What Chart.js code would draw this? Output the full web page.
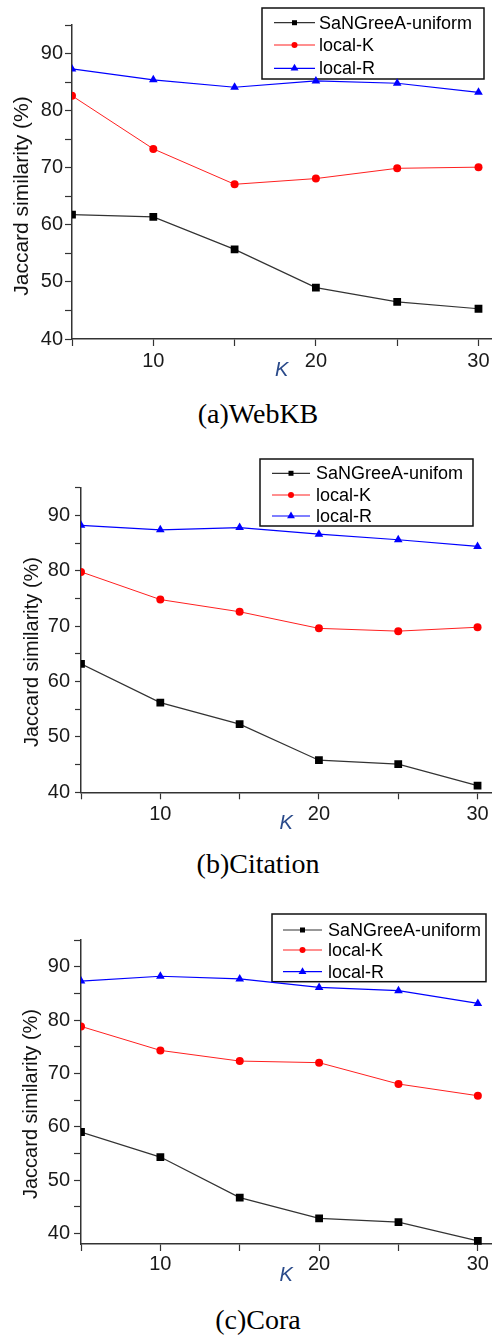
<!DOCTYPE html>
<html>
<head>
<meta charset="utf-8">
<script src="https://cdn.jsdelivr.net/npm/chart.js@4/dist/chart.umd.min.js"></script>
<style>
  body { margin: 0; background: #fff; }
  #page { position: relative; width: 497px; height: 1336px; overflow: hidden; }
  canvas { position: absolute; left: 0; }
  .caption {
    position: absolute; left: 0; width: 516px; text-align: center;
    font-family: "Liberation Serif", "Times New Roman", serif; font-size: 28px;
    height: 32px; line-height: 32px; color: #000;
  }
</style>
</head>
<body>
<div id="page">
  <canvas id="webkb" width="497" height="395" style="top:0px"></canvas>
  <canvas id="citation" width="497" height="400" style="top:440px"></canvas>
  <canvas id="cora" width="497" height="400" style="top:890px"></canvas>
  <div class="caption" style="top:398px">(a)WebKB</div>
  <div class="caption" style="top:848px">(b)Citation</div>
  <div class="caption" style="top:1304px">(c)Cora</div>
</div>
<script>
const kValues = [5, 10, 15, 20, 25, 30];
const xTickValues = [5, 10, 15, 20, 25, 30];
const yTickValues = [40, 45, 50, 55, 60, 65, 70, 75, 80, 85, 90, 95];

const webkbUniform = [61.8, 61.4, 55.7, 49.0, 46.5, 45.3];
const webkbLocalK = [82.6, 73.3, 67.1, 68.1, 69.9, 70.1];
const webkbLocalR = [87.3, 85.4, 84.1, 85.2, 84.8, 83.2];

const citationUniform = [63.2, 56.2, 52.3, 45.8, 45.1, 41.2];
const citationLocalK = [79.8, 74.8, 72.6, 69.6, 69.1, 69.8];
const citationLocalR = [88.2, 87.4, 87.8, 86.6, 85.6, 84.4];

const coraUniform = [59.0, 54.3, 46.7, 42.8, 42.1, 38.6];
const coraLocalK = [78.8, 74.3, 72.3, 72.0, 68.0, 65.8];
const coraLocalR = [87.3, 88.2, 87.7, 86.1, 85.5, 83.1];

const labelsAC = ['SaNGreeA-uniform', 'local-K', 'local-R'];
const labelsB = ['SaNGreeA-unifom', 'local-K', 'local-R'];

const yTitle = 'Jaccard similarity (%)';
const xTitle = 'K';

const seriesStyle = [
  { color: '#000', line: '#333', style: 'rect', radius: 5.5, width: 1.2 },
  { color: '#ff0000', line: '#ff2020', style: 'circle', radius: 4, width: 1 },
  { color: '#0000ff', line: '#0000ff', style: 'triangle', radius: 5, width: 1.2 }
];

function marker(ctx, style, x, y, r, color) {
  ctx.save();
  ctx.fillStyle = color;
  ctx.beginPath();
  if (style === 'rect') {
    ctx.rect(x - r, y - r, 2 * r, 2 * r);
  } else if (style === 'circle') {
    ctx.arc(x, y, r, 0, Math.PI * 2);
  } else {
    ctx.moveTo(x, y - r);
    ctx.lineTo(x + r * 0.87, y + r * 0.5);
    ctx.lineTo(x - r * 0.87, y + r * 0.5);
    ctx.closePath();
  }
  ctx.fill();
  ctx.restore();
}

// legend box + rotated y title, drawn under the data lines
const extras = {
  id: 'extras',
  beforeDatasetsDraw(chart, args, opts) {
    const ctx = chart.ctx;
    const lg = opts.legend;
    ctx.save();
    ctx.fillStyle = '#fff';
    ctx.fillRect(lg.x1, lg.y1, lg.x2 - lg.x1, lg.y2 - lg.y1);
    ctx.strokeStyle = '#111';
    ctx.lineWidth = 1.5;
    ctx.strokeRect(lg.x1, lg.y1, lg.x2 - lg.x1, lg.y2 - lg.y1);
    ctx.font = '18px "Liberation Sans", Arial, sans-serif';
    ctx.textBaseline = 'middle';
    chart.data.datasets.forEach((ds, i) => {
      const y = lg.rows[i];
      const st = seriesStyle[i];
      ctx.strokeStyle = st.line;
      ctx.lineWidth = 1.2;
      ctx.beginPath();
      ctx.moveTo(lg.lineX1, y);
      ctx.lineTo(lg.lineX2, y);
      ctx.stroke();
      const mx = (lg.lineX1 + lg.lineX2) / 2;
      marker(ctx, st.style, mx, y, [2.5, 3, 4.5][i], st.color);
      ctx.fillStyle = '#000';
      ctx.fillText(ds.label, lg.textX, y + 1);
    });
    const yt = opts.yTitle;
    ctx.translate(yt.x, yt.y);
    ctx.rotate(-Math.PI / 2);
    ctx.textAlign = 'center';
    ctx.textBaseline = 'middle';
    ctx.fillStyle = '#111';
    ctx.font = yt.size + 'px "Liberation Sans", Arial, sans-serif';
    ctx.fillText(yTitle, 0, 0);
    ctx.restore();
  }
};

function makeChart(id, labels, series, cfg) {
  const datasets = series.map((vals, i) => ({
    label: labels[i],
    data: kValues.map((k, j) => ({ x: k, y: vals[j] })),
    borderColor: seriesStyle[i].line,
    borderWidth: seriesStyle[i].width,
    backgroundColor: seriesStyle[i].color,
    pointBackgroundColor: seriesStyle[i].color,
    pointBorderColor: seriesStyle[i].color,
    pointBorderWidth: 0,
    pointStyle: seriesStyle[i].style,
    pointRadius: seriesStyle[i].radius,
    tension: 0,
    clip: { left: 0, top: 8, right: 8, bottom: 8 }
  }));
  const tickFont = { family: '"Liberation Sans", Arial, sans-serif', size: 20 };
  return new Chart(document.getElementById(id), {
    type: 'line',
    data: { datasets },
    options: {
      responsive: false,
      animation: false,
      devicePixelRatio: 1,
      layout: { padding: { top: cfg.top, right: cfg.right, left: 0, bottom: 0 } },
      plugins: {
        legend: { display: false },
        tooltip: { enabled: false },
        extras: { legend: cfg.legend, yTitle: cfg.yTitle }
      },
      scales: {
        x: {
          type: 'linear',
          min: 5,
          max: cfg.xMax,
          afterBuildTicks: axis => { axis.ticks = xTickValues.map(v => ({ value: v })); },
          afterFit: axis => { axis.height = cfg.xHeight; },
          ticks: {
            font: tickFont, color: '#1a1a1a', padding: cfg.xPad, maxRotation: 0,
            callback: v => (v % 10 === 0 ? String(v) : '')
          },
          grid: { drawOnChartArea: false, drawTicks: true, tickLength: 7, color: '#333', tickWidth: 1.2 },
          border: { display: true, color: '#333', width: 1.5 },
          title: {
            display: true, text: xTitle, color: '#2a4a8a',
            font: { family: '"Liberation Sans", Arial, sans-serif', size: 20, style: 'italic' },
            padding: { top: 0, bottom: cfg.kPad }
          }
        },
        y: {
          type: 'linear',
          min: cfg.yMin,
          max: 95,
          afterBuildTicks: axis => { axis.ticks = yTickValues.map(v => ({ value: v })); },
          afterFit: axis => { axis.width = cfg.left; },
          ticks: {
            font: tickFont, color: '#1a1a1a', padding: cfg.yPad,
            callback: v => (v % 10 === 0 ? String(v) : '')
          },
          grid: { drawOnChartArea: false, drawTicks: true, tickLength: cfg.yTick, color: '#333', tickWidth: 1.2 },
          border: { display: true, color: '#333', width: 1.5 }
        }
      }
    },
    plugins: [extras]
  });
}

makeChart('webkb', labelsAC, [webkbUniform, webkbLocalK, webkbLocalR], {
  top: 25, right: 0, left: 72, xMax: 30.8, yMin: 40, xHeight: 56, xPad: 3, kPad: 13, yPad: 2, yTick: 7,
  legend: { x1: 262, y1: 8, x2: 484, y2: 79, rows: [22.7, 45, 68.3], lineX1: 274, lineX2: 315, textX: 319 },
  yTitle: { x: 22, y: 196, size: 21 }
});

makeChart('citation', labelsB, [citationUniform, citationLocalK, citationLocalR], {
  top: 47.7, right: 4, left: 81, xMax: 30.88, yMin: 40, xHeight: 47.7, xPad: 3, kPad: 5, yPad: 5, yTick: 6,
  legend: { x1: 260, y1: 19, x2: 473, y2: 86, rows: [33.3, 55, 76], lineX1: 272, lineX2: 310, textX: 316 },
  yTitle: { x: 32, y: 212, size: 20 }
});

makeChart('cora', labelsAC, [coraUniform, coraLocalK, coraLocalR], {
  top: 50, right: 4.3, left: 81, xMax: 30.86, yMin: 38, xHeight: 46, xPad: 1, kPad: 3, yPad: 4, yTick: 7,
  legend: { x1: 272, y1: 24, x2: 486, y2: 91.7, rows: [40, 60, 81.7], lineX1: 283, lineX2: 322, textX: 328 },
  yTitle: { x: 31, y: 214, size: 20 }
});
</script>
</body>
</html>
